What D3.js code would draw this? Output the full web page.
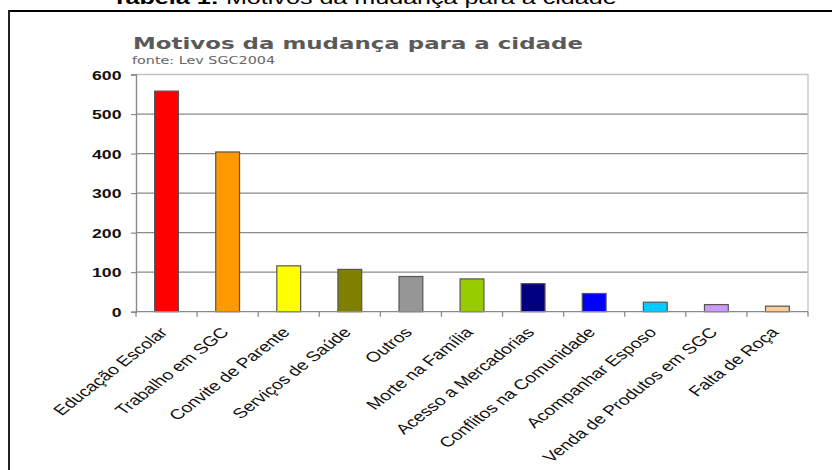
<!DOCTYPE html>
<html><head><meta charset="utf-8">
<script src="https://cdn.jsdelivr.net/npm/d3@7"></script>
<style>html,body{margin:0;padding:0;background:#fff;}svg{display:block;}</style>
</head><body>
<svg id="chart" width="832" height="470"></svg>
<script>
const categories = ["Educação Escolar","Trabalho em SGC","Convite de Parente","Serviços de Saúde","Outros","Morte na Família","Acesso a Mercadorias","Conflitos na Comunidade","Acompanhar Esposo","Venda de Produtos em SGC","Falta de Roça"];
const values = [558, 404, 116, 107, 89, 83, 71, 46, 24, 18, 14];
const barColors = ["#FF0000","#FF9900","#FFFF00","#808000","#969696","#99CC00","#000080","#0000FF","#00CCFF","#CC99FF","#FFCC99"];
const yTicks = [0, 100, 200, 300, 400, 500, 600];
const chartTitle = "Motivos da mudança para a cidade";
const chartSubtitle = "fonte: Lev SGC2004";
const headerBold = "Tabela 1:";
const headerRest = " Motivos da mudança para a cidade";

(function(){
const SX = 1.38; // horizontal stretch of the picture
const svg = d3.select("#chart");
svg.append("rect").attr("width",832).attr("height",470).attr("fill","#fff");

// clipped header
const hdr = svg.append("text")
  .attr("transform", `translate(112,4) scale(${SX},1)`)
  .attr("font-family","'Liberation Sans', Arial, sans-serif")
  .attr("font-size",18.2).attr("fill","#000");
hdr.append("tspan").attr("font-weight","bold").text(headerBold);
hdr.append("tspan").text(headerRest);

// outer frame
svg.append("line").attr("x1",9).attr("x2",832).attr("y1",11).attr("y2",11).attr("stroke","#000").attr("stroke-width",2);
svg.append("line").attr("x1",9).attr("x2",9).attr("y1",10).attr("y2",470).attr("stroke","#222").attr("stroke-width",2);

const pLeft = 136, pRight = 808, pTop = 74.5, pBottom = 311.7;
const x = d3.scaleBand().domain(categories).range([pLeft, pRight]).padding(0);
const y = d3.scaleLinear().domain([0, 600]).range([pBottom, pTop]);
const barW = x.bandwidth() * 0.39;

// gridlines
svg.append("g").selectAll("line").data(yTicks.filter(d => d > 0 && d < 600)).join("line")
  .attr("x1", pLeft).attr("x2", pRight)
  .attr("y1", d => y(d)).attr("y2", d => y(d))
  .attr("stroke","#8a8a8a").attr("stroke-width",1.2);
// plot border top/right
svg.append("path").attr("d", `M${pLeft},${y(600)}H${pRight}V${pBottom}`).attr("fill","none").attr("stroke","#c4c4c4").attr("stroke-width",1.3);

// bars
svg.append("g").selectAll("rect").data(categories).join("rect")
  .attr("x", d => x(d) + x.bandwidth()/2 - barW/2)
  .attr("y", (d,i) => y(values[i]))
  .attr("width", barW)
  .attr("height", (d,i) => y(0) - y(values[i]))
  .attr("fill", (d,i) => barColors[i])
  .attr("stroke","#555").attr("stroke-width",1.2);

// axes
const gy = svg.append("g").attr("transform", `translate(${pLeft},0)`)
  .call(d3.axisLeft(y).tickValues(yTicks).tickSize(5).tickFormat(d3.format("d")));
gy.select(".domain").attr("stroke","#8a8a8a").attr("stroke-width",1.4);
gy.selectAll(".tick line").attr("stroke","#8a8a8a").attr("stroke-width",1.2);
gy.selectAll(".tick text").remove();
gy.selectAll(".tick").append("text")
  .attr("transform", `translate(-14.5,0) scale(${SX},1)`)
  .attr("text-anchor","end").attr("dy","0.36em")
  .attr("font-family","'Liberation Sans', Arial, sans-serif")
  .attr("font-weight","bold").attr("font-size",12.8).attr("fill","#111")
  .text(d => d);

const gx = svg.append("g").attr("transform", `translate(0,${pBottom})`);
gx.append("line").attr("x1", pLeft).attr("x2", pRight).attr("stroke","#8a8a8a").attr("stroke-width",1.2);
const boundaries = categories.map(c => x(c)).concat([pRight]);
gx.selectAll("line.tk").data(boundaries).join("line").attr("class","tk")
  .attr("x1", d => d).attr("x2", d => d).attr("y1",0).attr("y2",5)
  .attr("stroke","#8a8a8a").attr("stroke-width",1.3);

// x labels
svg.append("g").selectAll("text").data(categories).join("text")
  .attr("transform", d => `translate(${x(d) + x.bandwidth()/2 - 8},${pBottom + 14.5}) scale(${SX},1) rotate(-47)`)
  .attr("text-anchor","end").attr("dy","0.72em")
  .attr("font-family","'Liberation Sans', Arial, sans-serif")
  .attr("font-size",14.1).attr("fill","#111")
  .text(d => d);

// titles
svg.append("text").attr("transform", `translate(133,49) scale(${SX},1)`)
  .attr("font-family","'DejaVu Sans', Verdana, sans-serif").attr("font-weight","bold")
  .attr("font-size",16.6).attr("fill","#5a5a5a").text(chartTitle);
svg.append("text").attr("transform", `translate(132,63.5) scale(${SX},1)`)
  .attr("font-family","'DejaVu Sans', Verdana, sans-serif")
  .attr("font-size",10.4).attr("fill","#666").text(chartSubtitle);
})();
</script>
</body></html>
